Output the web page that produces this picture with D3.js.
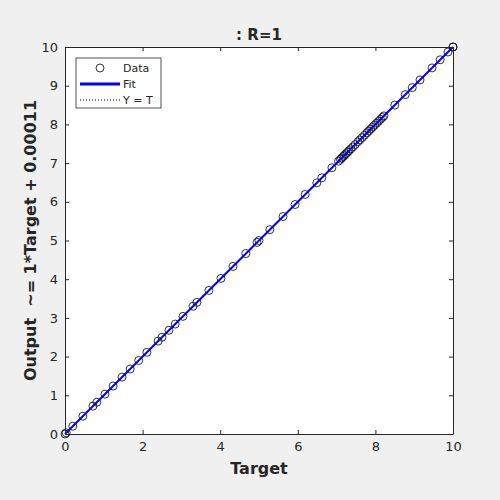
<!DOCTYPE html>
<meta charset="utf-8"/>
<head>
<style>
  body { margin:0; background:#f0f0f0; }
  text { font-family: "DejaVu Sans", sans-serif; fill:#262626; }
</style>
<script src="https://d3js.org/d3.v7.min.js"></script>
</head>
<body>
<script>
// target values (output ~= target)
var targets = [0, 0.03, 0.2, 0.46, 0.72, 0.82, 1.03, 1.24, 1.47, 1.68, 1.9, 2.11, 2.4, 2.5,
  2.68, 2.84, 3.04, 3.3, 3.4, 3.71, 4.02, 4.33, 4.66, 4.95, 5.0, 5.28, 5.62, 5.93, 6.19,
  6.49, 6.62, 6.88, 7.05, 7.1, 7.13, 7.17, 7.2, 7.24, 7.28, 7.32, 7.37, 7.42, 7.48, 7.55,
  7.6, 7.66, 7.72, 7.78, 7.83, 7.88, 7.93, 7.98, 8.03, 8.08, 8.13, 8.18, 8.22, 8.5, 8.77,
  8.95, 9.15, 9.46, 9.67, 9.87, 10, 10];
var outputs = targets.slice();
var fitSlope = 1, fitIntercept = 0.00011;
var yTicks = [0, 1, 2, 3, 4, 5, 6, 7, 8, 9, 10];
var xTicks = [0, 2, 4, 6, 8, 10];
var legendItems = ["Data", "Fit", "Y = T"];

var width = 500, height = 500;
var pLeft = 65, pRight = 453, pTop = 47, pBottom = 434;

var svg = d3.select("body").append("svg")
  .attr("width", width)
  .attr("height", height);

var x = d3.scaleLinear().domain([0, 10]).range([pLeft, pRight]);
var y = d3.scaleLinear().domain([0, 10]).range([pBottom, pTop]);

svg.append("rect")
  .attr("x", pLeft).attr("y", pTop)
  .attr("width", pRight - pLeft).attr("height", pBottom - pTop)
  .attr("fill", "#fff");

// Y = T dotted line
svg.append("line")
  .attr("x1", x(0)).attr("y1", y(0)).attr("x2", x(10)).attr("y2", y(10))
  .attr("stroke", "#000").attr("stroke-width", 1).attr("stroke-dasharray", "1,2");

// data circles
svg.selectAll(".pt")
  .data(targets)
  .enter().append("circle")
  .attr("class", "pt")
  .attr("cx", function(d) { return x(d); })
  .attr("cy", function(d, i) { return y(outputs[i]); })
  .attr("r", 4)
  .attr("fill", "none")
  .attr("stroke", "#000")
  .attr("stroke-width", 0.8);

// fit line
svg.append("line")
  .attr("x1", x(0)).attr("y1", y(fitIntercept))
  .attr("x2", x(10)).attr("y2", y(fitSlope * 10 + fitIntercept))
  .attr("stroke", "#0000ff").attr("stroke-width", 2);

// axes (ticks inside, box on all sides)
var g = svg.append("g");
g.append("g").attr("transform", "translate(0," + pBottom + ")")
  .call(d3.axisBottom(x).tickValues(xTicks).tickSizeInner(-4).tickSizeOuter(0).tickPadding(8).tickFormat(d3.format("d")));
g.append("g").attr("transform", "translate(0," + pTop + ")")
  .call(d3.axisTop(x).tickValues(xTicks).tickSizeInner(-4).tickSizeOuter(0).tickFormat(""));
g.append("g").attr("transform", "translate(" + pLeft + ",0)")
  .call(d3.axisLeft(y).tickValues(yTicks).tickSizeInner(-4).tickSizeOuter(0).tickPadding(7).tickFormat(d3.format("d")));
g.append("g").attr("transform", "translate(" + pRight + ",0)")
  .call(d3.axisRight(y).tickValues(yTicks).tickSizeInner(-4).tickSizeOuter(0).tickFormat(""));
g.selectAll(".domain").attr("stroke", "#262626");
g.selectAll(".tick line").attr("stroke", "#262626");
g.selectAll(".tick text").style("font-size", "13px").attr("fill", "#262626")
  .style("font-family", "DejaVu Sans, sans-serif");

// titles
svg.append("text").attr("x", (pLeft + pRight) / 2).attr("y", 40)
  .attr("text-anchor", "middle").style("font-size", "15px").style("font-weight", "bold")
  .text(": R=1");
svg.append("text").attr("x", (pLeft + pRight) / 2).attr("y", 474)
  .attr("text-anchor", "middle").style("font-size", "16px").style("font-weight", "bold")
  .text("Target");
svg.append("text")
  .attr("transform", "translate(36," + (pTop + pBottom) / 2 + ") rotate(-90)")
  .attr("text-anchor", "middle").style("font-size", "16px").style("font-weight", "bold")
  .style("white-space", "pre")
  .text("Output  ~= 1*Target + 0.00011");

// legend
var lg = svg.append("g").attr("transform", "translate(76,58)");
lg.append("rect").attr("width", 85).attr("height", 50)
  .attr("fill", "#fff").attr("stroke", "#262626").attr("stroke-width", 0.8);
legendItems.forEach(function(name, i) {
  var ly = 10 + i * 16;
  if (i === 0) {
    lg.append("circle").attr("cx", 24).attr("cy", ly).attr("r", 4)
      .attr("fill", "none").attr("stroke", "#000").attr("stroke-width", 0.8);
  } else if (i === 1) {
    lg.append("line").attr("x1", 4).attr("x2", 44).attr("y1", ly).attr("y2", ly)
      .attr("stroke", "#0000ff").attr("stroke-width", 3);
  } else {
    lg.append("line").attr("x1", 4).attr("x2", 44).attr("y1", ly).attr("y2", ly)
      .attr("stroke", "#000").attr("stroke-width", 1).attr("stroke-dasharray", "1,2");
  }
  lg.append("text").attr("x", 47).attr("y", ly + 4)
    .style("font-size", "11px").attr("fill", "#000").text(name);
});
</script>
</body>
